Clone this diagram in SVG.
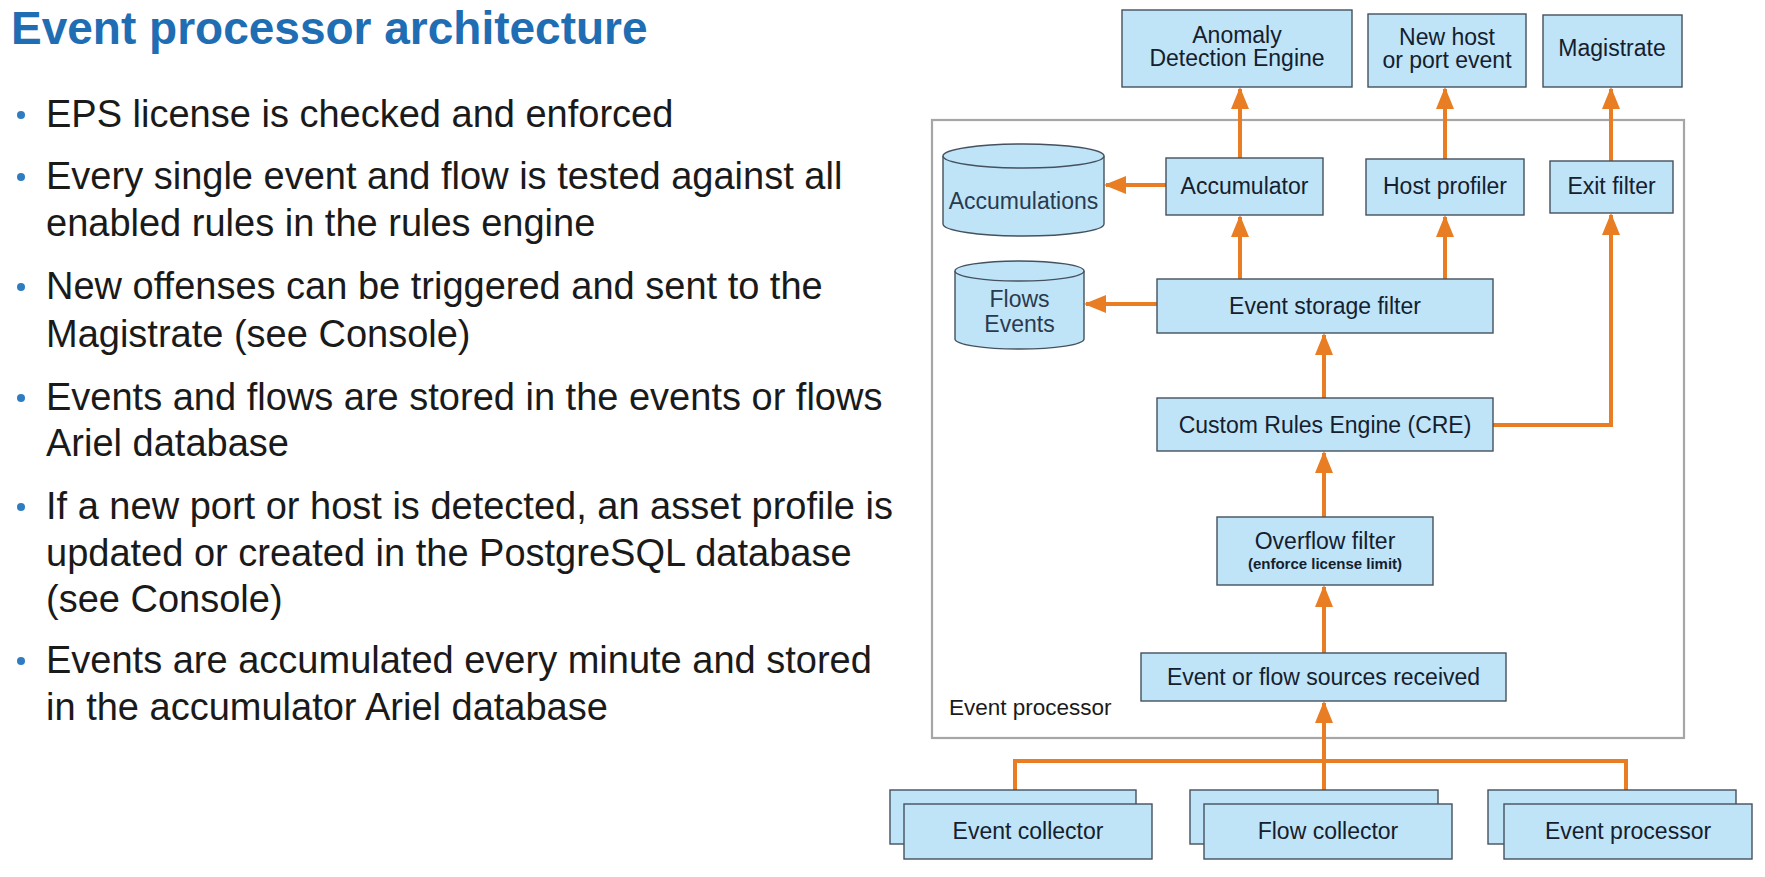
<svg xmlns="http://www.w3.org/2000/svg" width="1765" height="877" viewBox="0 0 1765 877">
<defs>
<marker id="ah" markerUnits="userSpaceOnUse" markerWidth="22" markerHeight="18" refX="20" refY="9" orient="auto">
<path d="M0,0 L22,9 L0,18 z" fill="#e97d23"/>
</marker>
<style>
.title{font-family:"Liberation Sans",Arial,sans-serif;font-weight:bold;font-size:46px;fill:#1f6db3}
.body{font-family:"Liberation Sans",Arial,sans-serif;font-size:38px;fill:#1a1a1a}
.dot{fill:#2f7dc0}
.box{fill:#bfe4f8;stroke:#45515e;stroke-width:1.4}
.cyl{fill:#bfe4f8;stroke:#45515e;stroke-width:1.4}
.lbl{font-family:"Liberation Sans",Arial,sans-serif;font-size:23px;fill:#14202e;text-anchor:middle}
.cyltxt{font-family:"Liberation Sans",Arial,sans-serif;font-size:23px;fill:#2a3a4e;text-anchor:middle}
.small{font-family:"Liberation Sans",Arial,sans-serif;font-size:15px;font-weight:bold;fill:#14202e;text-anchor:middle}
.cont{fill:none;stroke:#a6a6a6;stroke-width:2.2}
.cap{font-family:"Liberation Sans",Arial,sans-serif;font-size:22.5px;fill:#1a1a1a}
.c{fill:none;stroke:#e97d23;stroke-width:4}
.ca{fill:none;stroke:#e97d23;stroke-width:4;marker-end:url(#ah)}
</style>
</defs>
<rect width="1765" height="877" fill="#ffffff"/>

<g id="text">
<text class="title" x="11" y="44">Event processor architecture</text>
<circle class="dot" cx="21" cy="115" r="4"/>
<text class="body" x="46" y="127">EPS license is checked and enforced</text>
<circle class="dot" cx="21" cy="177" r="4"/>
<text class="body" x="46" y="189">Every single event and flow is tested against all</text>
<text class="body" x="46" y="236">enabled rules in the rules engine</text>
<circle class="dot" cx="21" cy="287" r="4"/>
<text class="body" x="46" y="299">New offenses can be triggered and sent to the</text>
<text class="body" x="46" y="347">Magistrate (see Console)</text>
<circle class="dot" cx="21" cy="398" r="4"/>
<text class="body" x="46" y="410">Events and flows are stored in the events or flows</text>
<text class="body" x="46" y="456">Ariel database</text>
<circle class="dot" cx="21" cy="507" r="4"/>
<text class="body" x="46" y="519">If a new port or host is detected, an asset profile is</text>
<text class="body" x="46" y="566">updated or created in the PostgreSQL database</text>
<text class="body" x="46" y="612">(see Console)</text>
<circle class="dot" cx="21" cy="661" r="4"/>
<text class="body" x="46" y="673">Events are accumulated every minute and stored</text>
<text class="body" x="46" y="720">in the accumulator Ariel database</text>
</g>

<g id="container">
<rect class="cont" x="932" y="120" width="752" height="618"/>
<text class="cap" x="949" y="715">Event processor</text>
</g>

<g id="connectors">
<path class="ca" d="M1240,158 L1240,89"/>
<path class="ca" d="M1445,159 L1445,89"/>
<path class="ca" d="M1611,161 L1611,89"/>
<path class="ca" d="M1166,185 L1106,185"/>
<path class="ca" d="M1157,304 L1086,304"/>
<path class="ca" d="M1240,279 L1240,217"/>
<path class="ca" d="M1445,279 L1445,217"/>
<path class="ca" d="M1324,398 L1324,335"/>
<path class="ca" d="M1493,425 L1611,425 L1611,215"/>
<path class="ca" d="M1324,517 L1324,453"/>
<path class="ca" d="M1324,653 L1324,587"/>
<path class="ca" d="M1324,790 L1324,703"/>
<path class="c" d="M1015,790 L1015,761 L1626,761 L1626,790"/>
</g>

<g id="anomaly">
<rect class="box" x="1122" y="10" width="230" height="77"/>
<text class="lbl" x="1237" y="43">Anomaly</text>
<text class="lbl" x="1237" y="66">Detection Engine</text>
</g>
<g id="newhost">
<rect class="box" x="1368" y="14" width="158" height="73"/>
<text class="lbl" x="1447" y="45">New host</text>
<text class="lbl" x="1447" y="68">or port event</text>
</g>
<g id="magistrate">
<rect class="box" x="1543" y="15" width="139" height="72"/>
<text class="lbl" x="1612" y="56">Magistrate</text>
</g>

<g id="accumulations">
<path class="cyl" d="M943,156 L943,224 A80.5,12 0 0 0 1104,224 L1104,156"/>
<ellipse class="cyl" cx="1023.5" cy="156" rx="80.5" ry="12"/>
<text class="cyltxt" x="1023.5" y="209">Accumulations</text>
</g>
<g id="accumulator">
<rect class="box" x="1166" y="158" width="157" height="57"/>
<text class="lbl" x="1244.5" y="194">Accumulator</text>
</g>
<g id="hostprofiler">
<rect class="box" x="1366" y="159" width="158" height="56"/>
<text class="lbl" x="1445" y="194">Host profiler</text>
</g>
<g id="exitfilter">
<rect class="box" x="1550" y="161" width="123" height="52"/>
<text class="lbl" x="1611.5" y="194">Exit filter</text>
</g>

<g id="flowsevents">
<path class="cyl" d="M955,271 L955,339 A64.5,10 0 0 0 1084,339 L1084,271"/>
<ellipse class="cyl" cx="1019.5" cy="271" rx="64.5" ry="10"/>
<text class="cyltxt" x="1019.5" y="307">Flows</text>
<text class="cyltxt" x="1019.5" y="332">Events</text>
</g>
<g id="storagefilter">
<rect class="box" x="1157" y="279" width="336" height="54"/>
<text class="lbl" x="1325" y="314">Event storage filter</text>
</g>
<g id="cre">
<rect class="box" x="1157" y="398" width="336" height="53"/>
<text class="lbl" x="1325" y="433">Custom Rules Engine (CRE)</text>
</g>
<g id="overflow">
<rect class="box" x="1217" y="517" width="216" height="68"/>
<text class="lbl" x="1325" y="549">Overflow filter</text>
<text class="small" x="1325" y="569">(enforce license limit)</text>
</g>
<g id="sources">
<rect class="box" x="1141" y="653" width="365" height="48"/>
<text class="lbl" x="1323.5" y="685">Event or flow sources received</text>
</g>

<g id="eventcollector">
<rect class="box" x="890" y="790" width="246" height="54"/>
<rect class="box" x="904" y="804" width="248" height="55"/>
<text class="lbl" x="1028" y="839">Event collector</text>
</g>
<g id="flowcollector">
<rect class="box" x="1190" y="790" width="248" height="54"/>
<rect class="box" x="1204" y="804" width="248" height="55"/>
<text class="lbl" x="1328" y="839">Flow collector</text>
</g>
<g id="eventprocessor">
<rect class="box" x="1488" y="790" width="248" height="54"/>
<rect class="box" x="1504" y="804" width="248" height="55"/>
<text class="lbl" x="1628" y="839">Event processor</text>
</g>
</svg>
